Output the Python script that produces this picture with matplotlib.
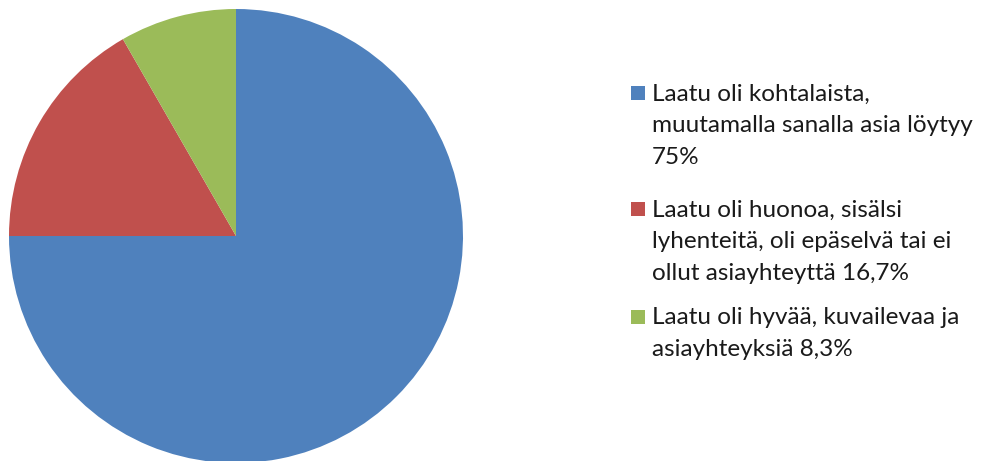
import matplotlib.pyplot as plt
from matplotlib.patches import Rectangle

labels = [
    ["Laatu oli kohtalaista,", "muutamalla sanalla asia löytyy", "75%"],
    ["Laatu oli huonoa, sisälsi", "lyhenteitä, oli epäselvä tai ei", "ollut asiayhteyttä 16,7%"],
    ["Laatu oli hyvää, kuvailevaa ja", "asiayhteyksiä 8,3%"],
]
values = [75, 16.7, 8.3]
colors = ["#4F81BD", "#C0504D", "#9BBB59"]

W, H = 989, 461
fig = plt.figure(figsize=(W / 100, H / 100), dpi=100)
fig.patch.set_facecolor("white")

# pie: centre (236, 236) px from top-left, radius 227 px
cx, cy, r = 236, 236, 227
ax = fig.add_axes([(cx - r) / W, (H - cy - r) / H, 2 * r / W, 2 * r / H])
ax.pie(values, colors=colors, startangle=90, counterclock=False,
       radius=1, wedgeprops=dict(edgecolor="none"))
ax.set_xlim(-1, 1)
ax.set_ylim(-1, 1)
ax.set_aspect("equal")
ax.axis("off")

# legend drawn by hand, one text per line
font = dict(family="Lato", size=17.5, color="#1a1a1a")
first_baseline = [100.5, 216.5, 324]  # px from top
pitch = 31.5
for lines, col, base in zip(labels, colors, first_baseline):
    fig.patches.append(Rectangle((631 / W, (H - base) / H), 14 / W, 14 / H,
                                 transform=fig.transFigure, facecolor=col,
                                 edgecolor="none"))
    for i, line in enumerate(lines):
        fig.text(652 / W, (H - base - i * pitch) / H, line,
                 ha="left", va="baseline", **font)

fig.savefig("out.png", dpi=100, facecolor="white")
